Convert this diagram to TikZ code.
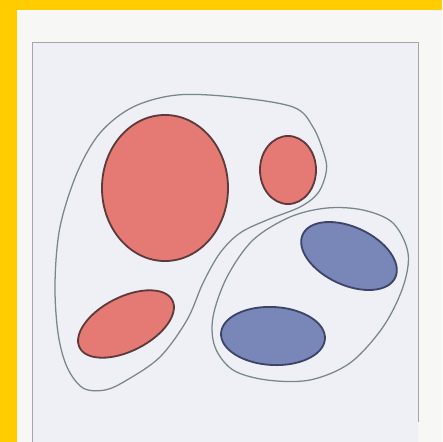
\documentclass[tikz,border=0pt]{standalone}
\usetikzlibrary{shapes.geometric}

\definecolor{bandyellow}{RGB}{255,204,0}
\definecolor{paper}{RGB}{247,247,245}
\definecolor{panelfill}{RGB}{238,240,246}
\definecolor{cellred}{RGB}{229,122,117}
\definecolor{cellblue}{RGB}{121,134,184}
\definecolor{redline}{RGB}{95,58,58}
\definecolor{blueline}{RGB}{62,68,104}
\definecolor{grpline}{RGB}{120,135,135}

\begin{document}
\begin{tikzpicture}[
    x=0.025cm, y=-0.025cm,
    redcell/.style={ellipse, draw=redline, line width=1.3pt, fill=cellred, inner sep=0pt},
    bluecell/.style={ellipse, draw=blueline, line width=1.3pt, fill=cellblue, inner sep=0pt},
    grp/.style={draw=grpline, line width=0.9pt}
]

% Page and yellow band
\fill[paper] (0,0) rectangle (442,442);
\useasboundingbox (0,0) rectangle (442,442);
\fill[bandyellow] (0,0) rectangle (17,442);
\fill[bandyellow] (0,0) rectangle (442,10);

% Panel
\fill[panelfill] (32,42) rectangle (418,442);
\draw[gray!70, line width=0.6pt] (32,442) -- (32,42) -- (418,42) -- (418,422);

% Groups
\draw[grp] plot[smooth cycle, tension=0.55] coordinates {
    (177,95) (233,97) (293,107) (313,127) (325,157) (326,173) (318,193)
    (300,207) (267,220) (240,233) (220,253) (203,283) (187,320) (160,357)
    (127,380) (105,390) (83,388) (67,367) (58,333) (55,283) (60,227)
    (77,173) (100,133) (133,107)};
\draw[grp] plot[smooth cycle, tension=0.55] coordinates {
    (363,210) (393,223) (408,253) (403,287) (383,327) (350,363) (310,380)
    (267,380) (233,370) (215,347) (213,317) (227,277) (253,240) (290,217)
    (327,208)};

% Cells
\node[redcell, minimum width=3.15cm, minimum height=3.65cm] (bigred) at (165,188) {};
\node[redcell, minimum width=1.4cm, minimum height=1.7cm] (smallred) at (288,170) {};
\node[redcell, minimum width=2.6cm, minimum height=1.35cm, rotate=27] (lowred) at (126,324) {};
\node[bluecell, minimum width=2.55cm, minimum height=1.45cm, rotate=-25] (upblue) at (349,256) {};
\node[bluecell, minimum width=2.6cm, minimum height=1.45cm, rotate=-3] (lowblue) at (273,336) {};

\end{tikzpicture}
\end{document}
